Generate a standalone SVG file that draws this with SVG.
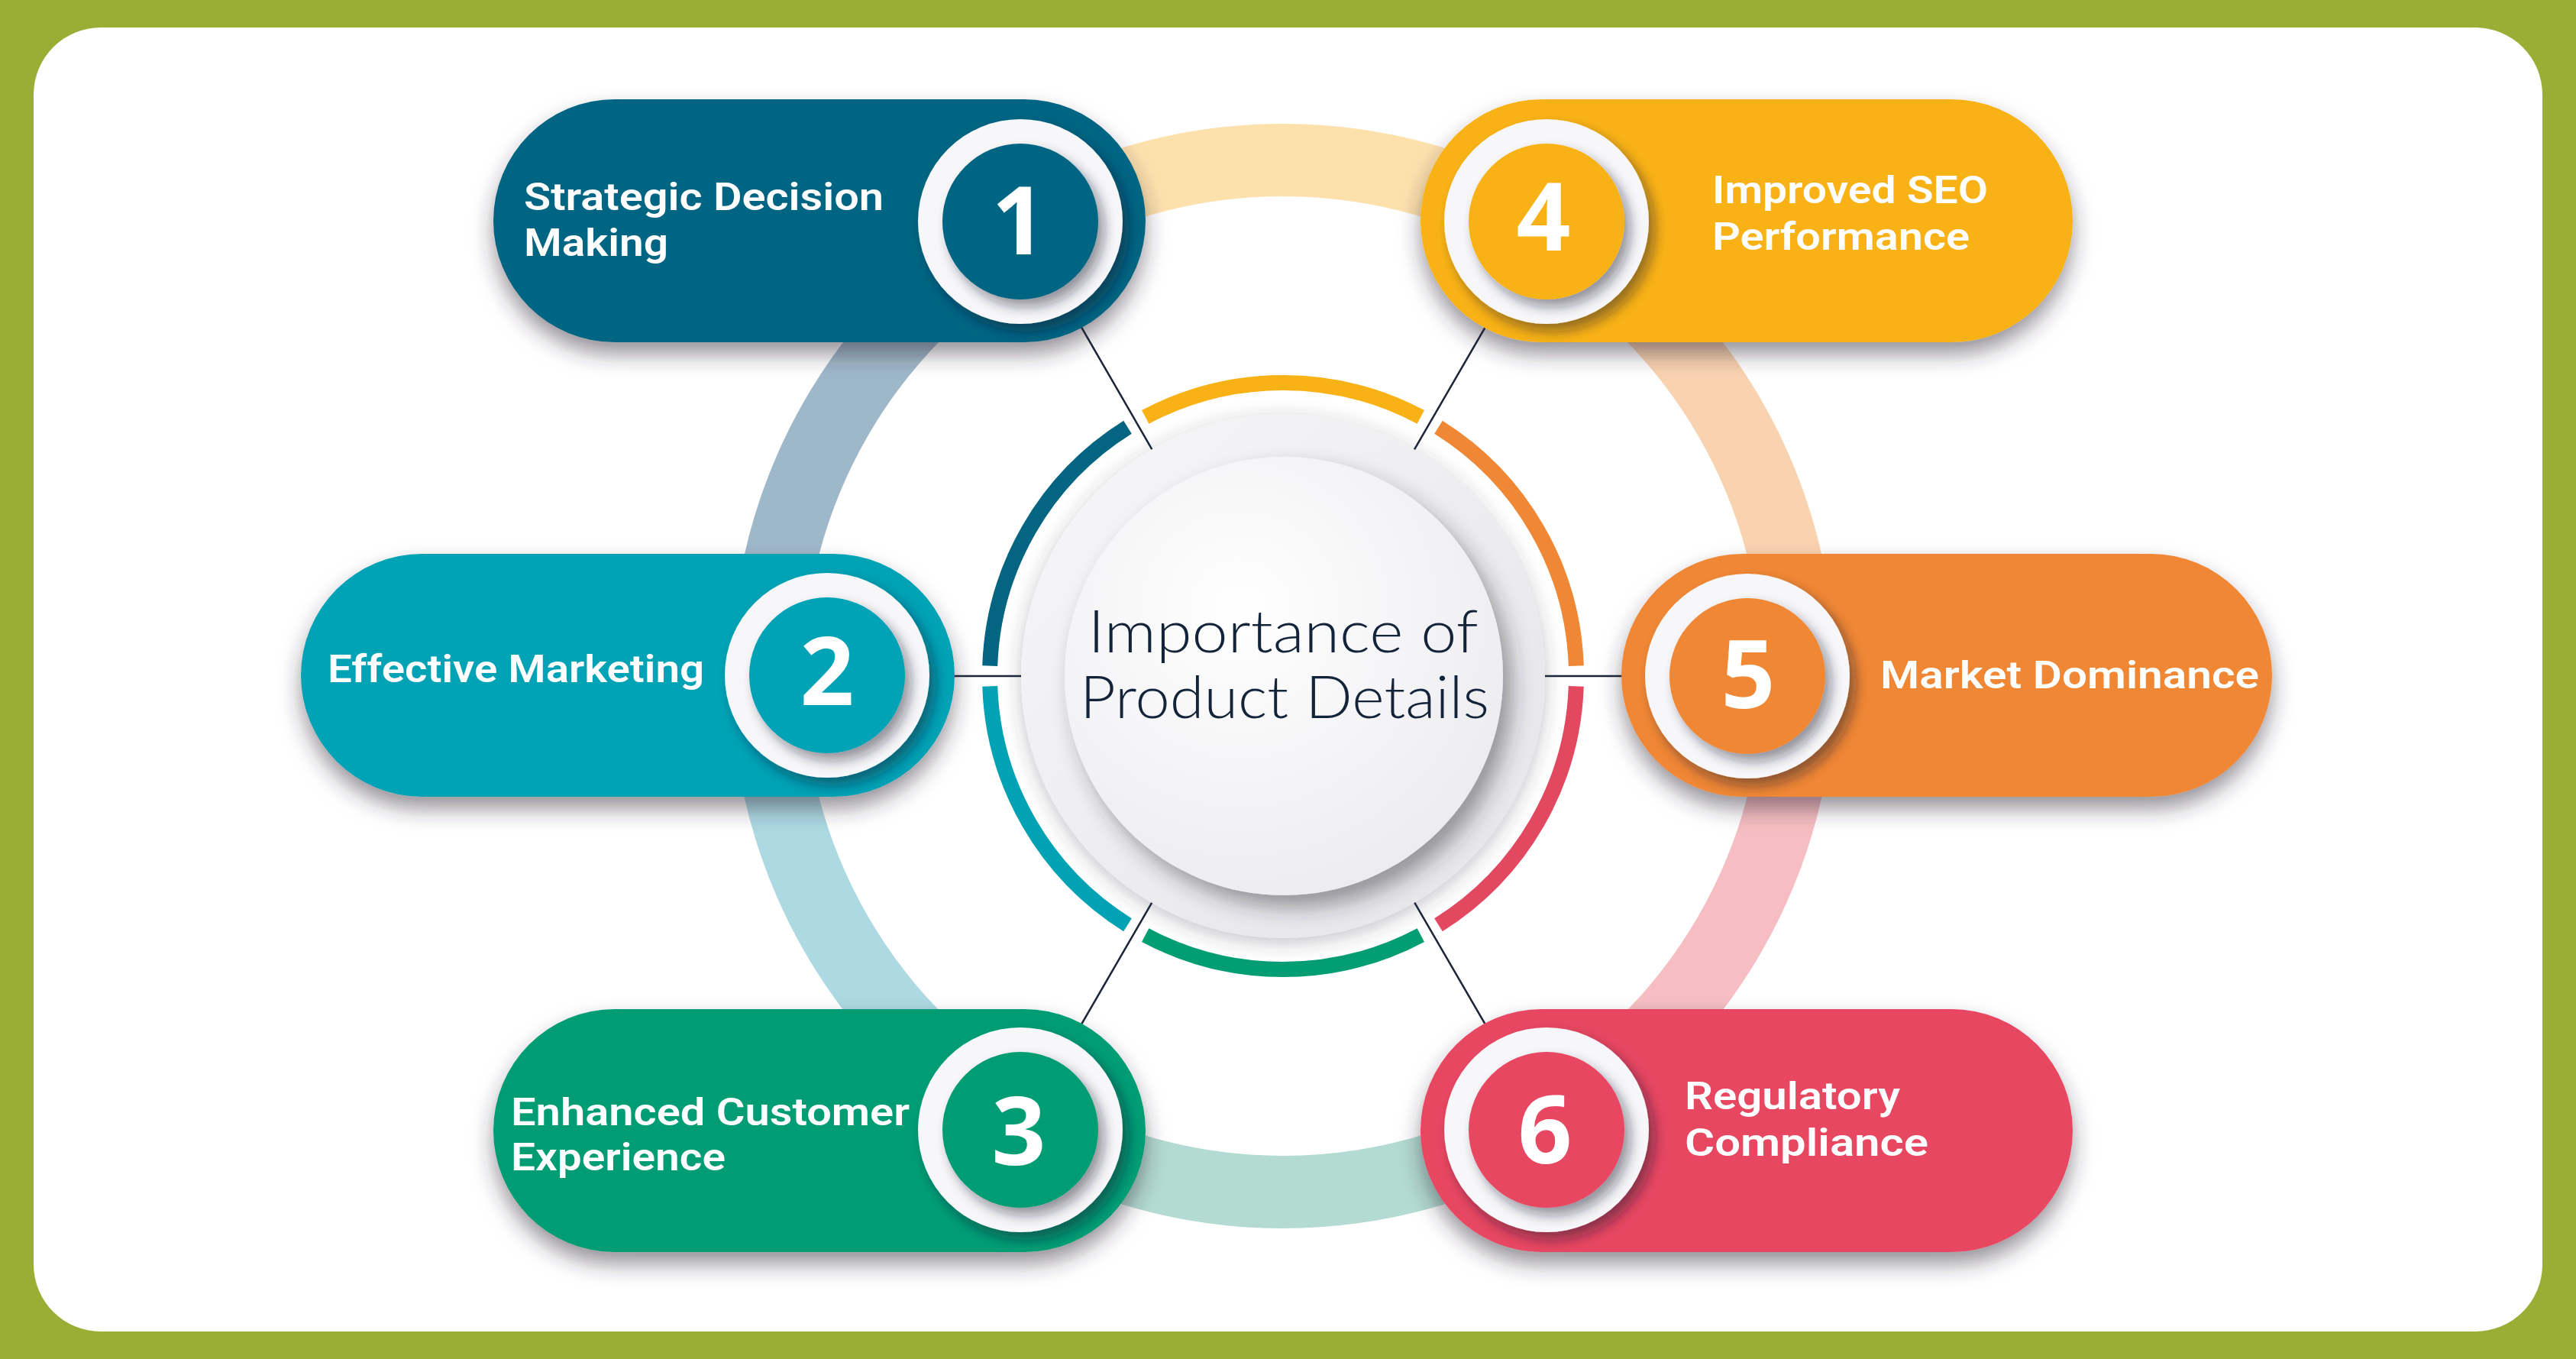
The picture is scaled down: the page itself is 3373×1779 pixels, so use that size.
<svg xmlns="http://www.w3.org/2000/svg" width="3373" height="1779" viewBox="0 0 3373 1779">
  <defs>
    <style>
      .label { font-family: Roboto, "Liberation Sans", sans-serif; font-weight: 600; font-size: 50px; fill: #ffffff; }
      .num { font-family: "Open Sans", "Liberation Sans", sans-serif; font-weight: 700; font-size: 124px; fill: #ffffff; text-anchor: middle; }
      .title { font-family: "Lato", "Open Sans", "Liberation Sans", sans-serif; font-weight: 300; font-size: 76px; fill: #13243a; text-anchor: middle; }
      .conn { stroke: #1b2438; stroke-width: 2.5; fill: none; }
      .ring { fill: none; stroke-width: 95; }
      .arc { fill: none; stroke-width: 20; }
      .wring { fill: #f7f7f9; filter: url(#ringShadow); }
    </style>
    <filter id="pillShadow" x="-15%" y="-30%" width="130%" height="180%">
      <feDropShadow dx="0" dy="16" stdDeviation="14" flood-color="#2e2a35" flood-opacity="0.5"/>
    </filter>
    <filter id="ringShadow" x="-30%" y="-30%" width="160%" height="160%">
      <feDropShadow dx="8" dy="10" stdDeviation="8" flood-color="#1f1f2a" flood-opacity="0.45"/>
    </filter>
    <filter id="outerShadow" x="-20%" y="-20%" width="140%" height="140%">
      <feDropShadow dx="0" dy="6" stdDeviation="12" flood-color="#3a3a48" flood-opacity="0.3"/>
    </filter>
    <filter id="innerShadow" x="-20%" y="-20%" width="140%" height="140%">
      <feDropShadow dx="12" dy="16" stdDeviation="14" flood-color="#2a2a36" flood-opacity="0.45"/>
    </filter>
    <linearGradient id="outerGrad" x1="0" y1="0" x2="1" y2="1">
      <stop offset="0" stop-color="#f7f7f9"/>
      <stop offset="1" stop-color="#e4e4e9"/>
    </linearGradient>
    <radialGradient id="innerGrad" cx="0.4" cy="0.35" r="0.7">
      <stop offset="0" stop-color="#ffffff"/>
      <stop offset="1" stop-color="#ececf0"/>
    </radialGradient>
  </defs>

  <!-- frame -->
  <rect x="0" y="0" width="3373" height="1779" fill="#9aae35"/>
  <rect x="44" y="36" width="3285" height="1707" rx="88" fill="#ffffff"/>

  <!-- large background ring -->
  <g id="bg-ring">
    <path class="ring" stroke="#9fb8c9" d="M1004.5,885 A675.5,675.5 0 0 1 1342.25,300"/>
    <path class="ring" stroke="#fde1ad" d="M1342.25,300 A675.5,675.5 0 0 1 2017.75,300"/>
    <path class="ring" stroke="#f9d2b0" d="M2017.75,300 A675.5,675.5 0 0 1 2355.5,885"/>
    <path class="ring" stroke="#f6bec2" d="M2355.5,885 A675.5,675.5 0 0 1 2017.75,1470"/>
    <path class="ring" stroke="#b3dbd1" d="M2017.75,1470 A675.5,675.5 0 0 1 1342.25,1470"/>
    <path class="ring" stroke="#acd9e2" d="M1342.25,1470 A675.5,675.5 0 0 1 1004.5,885"/>
  </g>

  <!-- connectors -->
  <g id="connectors">
    <line class="conn" x1="1680" y1="885" x2="1336" y2="290"/>
    <line class="conn" x1="1680" y1="885" x2="2025" y2="290"/>
    <line class="conn" x1="1680" y1="885" x2="1083" y2="885"/>
    <line class="conn" x1="1680" y1="885" x2="2288" y2="885"/>
    <line class="conn" x1="1680" y1="885" x2="1336" y2="1479"/>
    <line class="conn" x1="1680" y1="885" x2="2025" y2="1479"/>
  </g>

  <!-- coloured arcs around the centre -->
  <g id="center-arcs">
    <path class="arc" stroke="#036582" d="M1296.2,871.6 A384,384 0 0 1 1476.5,559.3"/>
    <path class="arc" stroke="#f9b215" d="M1499.7,545.9 A384,384 0 0 1 1860.3,545.9"/>
    <path class="arc" stroke="#ef8734" d="M1883.5,559.3 A384,384 0 0 1 2063.8,871.6"/>
    <path class="arc" stroke="#e2485f" d="M2063.8,898.4 A384,384 0 0 1 1883.5,1210.7"/>
    <path class="arc" stroke="#039d74" d="M1860.3,1224.1 A384,384 0 0 1 1499.7,1224.1"/>
    <path class="arc" stroke="#02a2b5" d="M1476.5,1210.7 A384,384 0 0 1 1296.2,898.4"/>
  </g>

  <!-- centre node -->
  <g id="node-center">
    <circle cx="1680" cy="885" r="343" fill="url(#outerGrad)" filter="url(#outerShadow)"/>
    <circle cx="1681" cy="885" r="287" fill="url(#innerGrad)" filter="url(#innerShadow)"/>
    <text class="title" x="1680" y="854" textLength="511" lengthAdjust="spacingAndGlyphs">Importance of</text>
    <text class="title" x="1682" y="940" textLength="536" lengthAdjust="spacingAndGlyphs">Product Details</text>
  </g>

  <!-- node 1 -->
  <g id="node-1">
    <rect x="646" y="130" width="854" height="318" rx="159" fill="#036582" filter="url(#pillShadow)"/>
    <circle class="wring" cx="1336" cy="290" r="134"/>
    <circle cx="1336" cy="290" r="102" fill="#036582" filter="url(#ringShadow)"/>
    <text class="num" x="1334" y="333">1</text>
    <text class="label" x="686" y="275" textLength="471" lengthAdjust="spacingAndGlyphs">Strategic Decision</text>
    <text class="label" x="686" y="335" textLength="189" lengthAdjust="spacingAndGlyphs">Making</text>
  </g>

  <!-- node 4 -->
  <g id="node-4">
    <rect x="1860" y="130" width="854" height="318" rx="159" fill="#f9b215" filter="url(#pillShadow)"/>
    <circle class="wring" cx="2025" cy="290" r="134"/>
    <circle cx="2025" cy="290" r="102" fill="#f9b215" filter="url(#ringShadow)"/>
    <text class="num" x="2021" y="328">4</text>
    <text class="label" x="2242" y="266" textLength="361" lengthAdjust="spacingAndGlyphs">Improved SEO</text>
    <text class="label" x="2242" y="327" textLength="337" lengthAdjust="spacingAndGlyphs">Performance</text>
  </g>

  <!-- node 2 -->
  <g id="node-2">
    <rect x="394" y="725" width="856" height="318" rx="159" fill="#02a2b5" filter="url(#pillShadow)"/>
    <circle class="wring" cx="1083" cy="884" r="134"/>
    <circle cx="1083" cy="884" r="102" fill="#02a2b5" filter="url(#ringShadow)"/>
    <text class="num" x="1083" y="923">2</text>
    <text class="label" x="429" y="893" textLength="493" lengthAdjust="spacingAndGlyphs">Effective Marketing</text>
  </g>

  <!-- node 5 -->
  <g id="node-5">
    <rect x="2123" y="725" width="852" height="318" rx="159" fill="#ef8734" filter="url(#pillShadow)"/>
    <circle class="wring" cx="2288" cy="885" r="134"/>
    <circle cx="2288" cy="885" r="102" fill="#ef8734" filter="url(#ringShadow)"/>
    <text class="num" x="2289" y="927">5</text>
    <text class="label" x="2462" y="901" textLength="496" lengthAdjust="spacingAndGlyphs">Market Dominance</text>
  </g>

  <!-- node 3 -->
  <g id="node-3">
    <rect x="646" y="1321" width="854" height="318" rx="159" fill="#039d74" filter="url(#pillShadow)"/>
    <circle class="wring" cx="1336" cy="1479" r="134"/>
    <circle cx="1336" cy="1479" r="102" fill="#039d74" filter="url(#ringShadow)"/>
    <text class="num" x="1334" y="1525">3</text>
    <text class="label" x="669" y="1473" textLength="522" lengthAdjust="spacingAndGlyphs">Enhanced Customer</text>
    <text class="label" x="669" y="1532" textLength="281" lengthAdjust="spacingAndGlyphs">Experience</text>
  </g>

  <!-- node 6 -->
  <g id="node-6">
    <rect x="1860" y="1321" width="854" height="318" rx="159" fill="#e84762" filter="url(#pillShadow)"/>
    <circle class="wring" cx="2025" cy="1479" r="134"/>
    <circle cx="2025" cy="1479" r="102" fill="#e84762" filter="url(#ringShadow)"/>
    <text class="num" x="2023" y="1523">6</text>
    <text class="label" x="2206" y="1452" textLength="282" lengthAdjust="spacingAndGlyphs">Regulatory</text>
    <text class="label" x="2206" y="1513" textLength="319" lengthAdjust="spacingAndGlyphs">Compliance</text>
  </g>
</svg>
